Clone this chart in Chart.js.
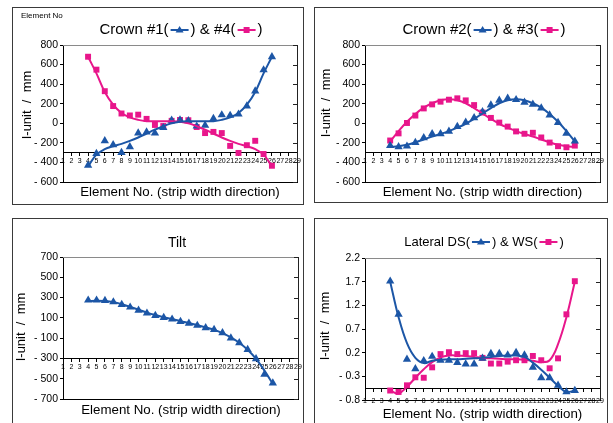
<!DOCTYPE html>
<html>
<head>
<meta charset="utf-8">
<script src="https://cdn.jsdelivr.net/npm/chart.js@4"></script>
<style>
  body { margin: 0; background: #fff; width: 613px; height: 423px; overflow: hidden; position: relative; }
  .panel { position: absolute; box-sizing: border-box; border: 1px solid #3a3a3a; }
  .panel canvas { position: absolute; left: 0; top: 0; }
</style>
</head>
<body>
<div class="panel" style="left:12px;top:7px;width:292px;height:198px"><canvas id="c1" width="290" height="196"></canvas></div>
<div class="panel" style="left:314px;top:7px;width:294px;height:196px"><canvas id="c2" width="292" height="194"></canvas></div>
<div class="panel" style="left:12px;top:218px;width:292px;height:230px"><canvas id="c3" width="290" height="204"></canvas></div>
<div class="panel" style="left:314px;top:218px;width:294px;height:230px"><canvas id="c4" width="292" height="204"></canvas></div>
<script>
// element numbers across the strip width
const elements = [4, 5, 6, 7, 8, 9, 10, 11, 12, 13, 14, 15, 16, 17, 18, 19, 20, 21, 22, 23, 24, 25, 26]

const crown1 = [-430, -310, -180, -220, -300, -240, -100, -90, -100, -45, 30, 34, 25, -30, -20, 48, 85, 80, 93, 175, 330, 545, 680]
const crown1Fit = [-440, -320, -265, -235, -210, -180, -145, -105, -65, -30, 0, 15, 20, 20, 20, 22, 35, 60, 105, 190, 320, 510, 680]
const crown4 = [680, 548, 328, 176, 100, 80, 88, 45, -17, -28, 25, 34, 31, -38, -100, -88, -100, -231, -303, -224, -179, -314, -434]
const crown4Fit = [680, 510, 320, 190, 105, 60, 35, 22, 20, 20, 20, 15, 0, -30, -65, -105, -145, -180, -210, -235, -265, -320, -440]

const crown2 = [-228, -241, -234, -197, -148, -107, -107, -83, -34, 10, 55, 117, 186, 234, 255, 241, 214, 193, 155, 83, 7, -103, -183]
const crown2Fit = [-240, -235, -220, -195, -165, -135, -110, -80, -45, -5, 45, 100, 155, 205, 235, 245, 235, 205, 160, 95, 15, -80, -185]
const crown3 = [-176, -103, 3, 79, 152, 193, 221, 241, 255, 234, 186, 110, 55, 7, -34, -83, -107, -97, -145, -197, -234, -245, -228]
const crown3Fit = [-185, -80, 15, 95, 160, 205, 235, 245, 235, 205, 155, 100, 45, -5, -45, -80, -110, -135, -165, -195, -220, -235, -240]

const tilt = [274, 274, 270, 257, 231, 205, 175, 146, 123, 103, 87, 64, 47, 25, 2, -15, -48, -100, -146, -212, -303, -457, -543]
const tiltFit = [265, 268, 265, 255, 235, 208, 180, 152, 128, 107, 88, 68, 50, 28, 5, -18, -50, -92, -145, -215, -305, -420, -550]

const lateralDS = [1.71, 1.01, 0.06, -0.14, 0.03, 0.12, 0.04, 0.04, -0.01, -0.04, -0.04, 0.08, 0.18, 0.18, 0.15, 0.2, 0.15, -0.11, -0.33, -0.33, -0.49, -0.63, -0.6]
const lateralDSFit = [1.7, 0.95, 0.4, 0.09, -0.02, 0.03, 0.05, 0.06, 0.06, 0.07, 0.08, 0.09, 0.11, 0.13, 0.14, 0.14, 0.11, -0.01, -0.16, -0.33, -0.5, -0.63, -0.6]
const lateralWS = [-0.6, -0.63, -0.49, -0.32, -0.33, -0.11, 0.17, 0.21, 0.17, 0.19, 0.19, 0.09, -0.03, -0.03, 0.01, 0.04, 0.04, 0.13, 0.04, -0.13, 0.08, 1.01, 1.71]
const lateralWSFit = [-0.6, -0.66, -0.52, -0.33, -0.15, 0.0, 0.1, 0.14, 0.14, 0.13, 0.11, 0.09, 0.08, 0.07, 0.06, 0.06, 0.05, 0.03, 0.0, 0.04, 0.38, 0.95, 1.7]

// axis ticks
const crownTicks = [-600, -400, -200, 0, 200, 400, 600, 800]
const tiltTicks = [-700, -500, -300, -100, 100, 300, 500, 700]
const lateralTicks = [-0.8, -0.3, 0.2, 0.7, 1.2, 1.7, 2.2]

const FONT = '"Liberation Sans", Arial, sans-serif'
const BLUE = '#1c56a6'
const PINK = '#e8168b'

const pts = (ys) => elements.map((x, i) => ({ x: x, y: ys[i] }))

function markers(ys, color, style) {
  return {
    data: pts(ys), showLine: false, pointStyle: style,
    pointRadius: style === 'triangle' ? 4.8 : 4.2,
    pointBackgroundColor: color, pointBorderColor: color, pointBorderWidth: 0
  }
}

function curve(ys, color) {
  return {
    data: pts(ys), showLine: true, pointRadius: 0, borderColor: color,
    borderWidth: 2, tension: 0.4, fill: false
  }
}

function drawSample(ctx, x, y, s) {
  ctx.strokeStyle = s.color
  ctx.fillStyle = s.color
  ctx.lineWidth = 2
  ctx.beginPath(); ctx.moveTo(x - 9, y); ctx.lineTo(x + 9, y); ctx.stroke()
  ctx.beginPath()
  if (s.style === 'triangle') {
    ctx.moveTo(x, y - 4); ctx.lineTo(x + 4, y + 2.5); ctx.lineTo(x - 4, y + 2.5)
  } else {
    ctx.rect(x - 3, y - 3, 6, 6)
  }
  ctx.fill()
}

function drawTitle(ctx, parts, cx, cy, size) {
  ctx.font = size + 'px ' + FONT
  ctx.textAlign = 'left'
  ctx.textBaseline = 'middle'
  const w = parts.reduce((s, p) => s + (p.text ? ctx.measureText(p.text).width : 22), 0)
  let x = cx - w / 2
  parts.forEach((p) => {
    if (p.text) {
      ctx.fillStyle = '#000'
      ctx.fillText(p.text, x, cy)
      x += ctx.measureText(p.text).width
    } else {
      drawSample(ctx, x + 11, cy, p)
      x += 22
    }
  })
}

function framePlugin(o) {
  return {
    id: 'frame',
    afterDraw(chart) {
      const { ctx, chartArea: a, scales } = chart
      ctx.save()
      // top edge of the plot box
      ctx.strokeStyle = '#8a8a8a'
      ctx.lineWidth = 1
      ctx.beginPath(); ctx.moveTo(a.left, a.top + 0.5); ctx.lineTo(a.right + 1, a.top + 0.5); ctx.stroke()
      // right edge with inward ticks
      ctx.strokeStyle = '#222'
      ctx.beginPath()
      ctx.moveTo(a.right + 0.5, a.top); ctx.lineTo(a.right + 0.5, a.bottom)
      o.yTicks.forEach((v) => {
        const y = Math.round(scales.y.getPixelForValue(v)) + 0.5
        ctx.moveTo(a.right, y); ctx.lineTo(a.right - 4, y)
      })
      ctx.stroke()

      drawTitle(ctx, o.title, o.titlePos[0], o.titlePos[1], o.titleSize)

      ctx.fillStyle = '#000'
      ctx.font = '13.3px ' + FONT
      ctx.textAlign = 'center'
      ctx.textBaseline = 'middle'
      ctx.fillText('Element No. (strip width direction)', o.xTitlePos[0], o.xTitlePos[1])

      ctx.save()
      ctx.translate(o.yTitlePos[0], o.yTitlePos[1])
      ctx.rotate(-Math.PI / 2)
      ctx.font = '13px ' + FONT
      ctx.fillText('I-unit  /  mm', 0, 0)
      ctx.restore()

      if (o.note) {
        ctx.font = '8px ' + FONT
        ctx.textAlign = 'left'
        ctx.fillText(o.note, 8, 8)
      }
      ctx.restore()
    }
  }
}

function tickText(v, digits) {
  const s = digits ? Math.abs(v).toFixed(digits) : String(Math.abs(v))
  return v < 0 ? '- ' + s : s
}

function makePanel(id, o) {
  new Chart(document.getElementById(id), {
    type: 'scatter',
    data: { datasets: o.datasets },
    options: {
      responsive: false,
      animation: false,
      layout: { padding: { top: o.pad[0], right: o.pad[1], bottom: o.pad[2], left: 0 } },
      plugins: { legend: { display: false }, tooltip: { enabled: false } },
      scales: {
        x: {
          type: 'linear', min: 1, max: 29,
          afterFit: (s) => { s.height = 0; s.paddingLeft = 0; s.paddingRight = 0 },
          ticks: { display: false },
          grid: { drawOnChartArea: false, drawTicks: false },
          border: { color: '#000', width: 1 }
        },
        xc: {
          type: 'linear', axis: 'x', min: 1, max: 29,
          position: { y: o.cross },
          afterFit: (s) => { s.height = 0; s.paddingLeft = 0; s.paddingRight = 0 },
          ticks: {
            stepSize: 1, autoSkip: false, maxRotation: 0, color: '#000',
            padding: o.xTickPad, font: { family: FONT, size: 7 }
          },
          grid: { drawOnChartArea: false, tickLength: 3, color: '#000' },
          border: { color: '#000', width: 1 }
        },
        y: {
          min: o.yTicks[0], max: o.yTicks[o.yTicks.length - 1],
          afterBuildTicks: (s) => { s.ticks = o.yTicks.map((v) => ({ value: v })) },
          afterFit: (s) => { s.width = o.yWidth },
          ticks: {
            color: '#000', padding: 2, font: { family: FONT, size: 10.5 },
            callback: (v) => tickText(v, o.digits)
          },
          grid: { drawOnChartArea: false, tickLength: 3, color: '#000' },
          border: { color: '#000', width: 1 }
        }
      }
    },
    plugins: [framePlugin(o)]
  })
}

makePanel('c1', {
  datasets: [curve(crown1Fit, BLUE), curve(crown4Fit, PINK), markers(crown1, BLUE, 'triangle'), markers(crown4, PINK, 'rect')],
  yTicks: crownTicks, cross: -300, pad: [37, 6, 22], yWidth: 50, xTickPad: 1,
  title: [{ text: 'Crown #1(' }, { color: BLUE, style: 'triangle' }, { text: ')' }, { text: ' & #4(' }, { color: PINK, style: 'rect' }, { text: ')' }],
  titleSize: 15, titlePos: [168, 22], xTitlePos: [167, 184], yTitlePos: [14, 97], note: 'Element No'
})

makePanel('c2', {
  datasets: [curve(crown2Fit, BLUE), curve(crown3Fit, PINK), markers(crown2, BLUE, 'triangle'), markers(crown3, PINK, 'rect')],
  yTicks: crownTicks, cross: -300, pad: [37, 7, 20], yWidth: 50, xTickPad: 1,
  title: [{ text: 'Crown #2(' }, { color: BLUE, style: 'triangle' }, { text: ')' }, { text: ' & #3(' }, { color: PINK, style: 'rect' }, { text: ')' }],
  titleSize: 15, titlePos: [169, 22], xTitlePos: [167.5, 184], yTitlePos: [11, 95]
})

makePanel('c3', {
  datasets: [curve(tiltFit, BLUE), markers(tilt, BLUE, 'triangle')],
  yTicks: tiltTicks, cross: -300, pad: [38, 5, 24], yWidth: 50, xTickPad: 1,
  title: [{ text: 'Tilt' }],
  titleSize: 14, titlePos: [164, 24], xTitlePos: [168, 191], yTitlePos: [8, 108]
})

makePanel('c4', {
  datasets: [curve(lateralDSFit, BLUE), curve(lateralWSFit, PINK), markers(lateralDS, BLUE, 'triangle'), markers(lateralWS, PINK, 'rect')],
  yTicks: lateralTicks, cross: -0.55, pad: [39, 7, 23], yWidth: 50, xTickPad: 6, digits: 1,
  title: [{ text: 'Lateral DS(' }, { color: BLUE, style: 'triangle' }, { text: ')' }, { text: ' & WS(' }, { color: PINK, style: 'rect' }, { text: ')' }],
  titleSize: 13, titlePos: [169, 23], xTitlePos: [167.5, 195], yTitlePos: [10, 107]
})
</script>
</body>
</html>
